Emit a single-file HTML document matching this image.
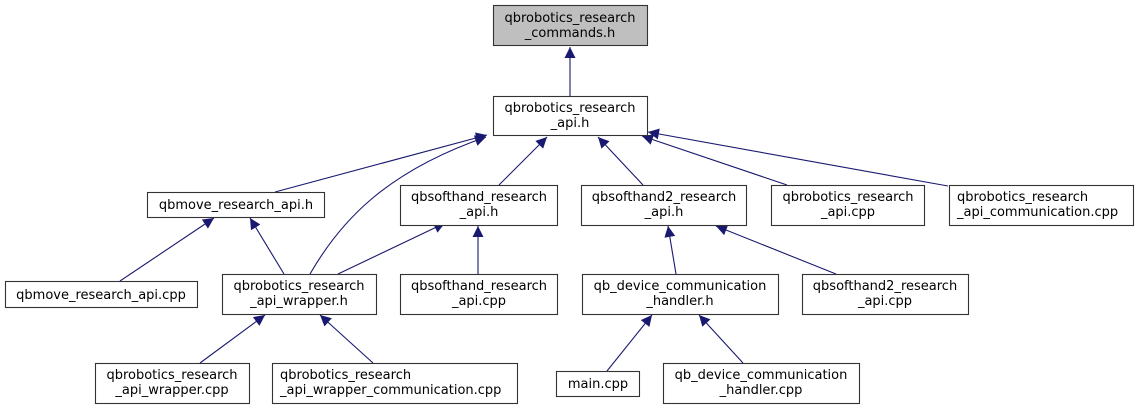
<!DOCTYPE html>
<html><head><meta charset="utf-8"><style>html,body{margin:0;padding:0;background:#fff}svg{display:block}</style></head>
<body>
<svg width="1139" height="409" viewBox="0 0 1139 409" xmlns="http://www.w3.org/2000/svg" font-family="'DejaVu Sans','Liberation Sans',sans-serif" font-size="13">
<defs>
<marker id="a" viewBox="0 0 10 10" refX="10" refY="5" markerWidth="11" markerHeight="11" markerUnits="userSpaceOnUse" orient="auto">
<path d="M0,0 L10,5 L0,10 z" fill="#191970"/>
</marker>
</defs>
<g stroke="#191970" stroke-width="1.1" fill="none" marker-end="url(#a)">
<line x1="570" y1="96" x2="570" y2="47"/>
<line x1="275" y1="192" x2="487" y2="135"/>
<path d="M310,274 C340,222 385,172 486,137"/>
<line x1="499" y1="185" x2="547" y2="137"/>
<line x1="643" y1="185" x2="598" y2="137"/>
<line x1="787" y1="185" x2="642" y2="136"/>
<line x1="948" y1="186" x2="648" y2="132"/>
<line x1="120" y1="281" x2="214" y2="218"/>
<line x1="284" y1="274" x2="250" y2="218"/>
<line x1="338" y1="274" x2="445" y2="223"/>
<line x1="478" y1="274" x2="478" y2="226"/>
<line x1="676" y1="274" x2="668" y2="226"/>
<line x1="836" y1="274" x2="716" y2="226"/>
<line x1="200" y1="363" x2="265" y2="315"/>
<line x1="373" y1="363" x2="320" y2="315"/>
<line x1="607" y1="371" x2="652" y2="315"/>
<line x1="743" y1="363" x2="699" y2="315"/>
</g>
<g stroke="#333" stroke-width="1.1" fill="#fff">
<rect x="493.5" y="5.5" width="154" height="40" fill="#bfbfbf"/>
<rect x="493.5" y="96.5" width="154" height="39"/>
<rect x="147.5" y="192.5" width="177" height="25"/>
<rect x="400.5" y="185.5" width="157" height="40"/>
<rect x="581.5" y="185.5" width="165" height="40"/>
<rect x="771.5" y="185.5" width="153" height="40"/>
<rect x="949.5" y="185.5" width="184" height="40"/>
<rect x="5.5" y="281.5" width="192" height="26"/>
<rect x="222.5" y="274.5" width="154" height="40"/>
<rect x="400.5" y="274.5" width="157" height="40"/>
<rect x="582.5" y="274.5" width="196" height="40"/>
<rect x="802.5" y="274.5" width="166" height="40"/>
<rect x="95.5" y="363.5" width="154" height="40"/>
<rect x="272.5" y="363.5" width="245" height="40"/>
<rect x="556.5" y="371.5" width="83" height="25"/>
<rect x="663.5" y="363.5" width="196" height="40"/>
</g>
<g fill="#000" text-anchor="middle">
<text x="570" y="22">qbrobotics_research</text><text x="570" y="37">_commands.h</text>
<text x="570" y="112">qbrobotics_research</text><text x="570" y="127">_api.h</text>
<text x="236" y="209">qbmove_research_api.h</text>
<text x="479" y="201">qbsofthand_research</text><text x="479" y="216">_api.h</text>
<text x="664" y="201">qbsofthand2_research</text><text x="664" y="216">_api.h</text>
<text x="848" y="201">qbrobotics_research</text><text x="848" y="216">_api.cpp</text>
<text x="1041" y="201" text-anchor="start" x-dummy="">&#8203;</text>
<text x="957" y="201" text-anchor="start">qbrobotics_research</text><text x="957" y="216" text-anchor="start">_api_communication.cpp</text>
<text x="101" y="299">qbmove_research_api.cpp</text>
<text x="299" y="290">qbrobotics_research</text><text x="299" y="305">_api_wrapper.h</text>
<text x="479" y="290">qbsofthand_research</text><text x="479" y="305">_api.cpp</text>
<text x="680" y="290">qb_device_communication</text><text x="680" y="305">_handler.h</text>
<text x="885" y="290">qbsofthand2_research</text><text x="885" y="305">_api.cpp</text>
<text x="172" y="379">qbrobotics_research</text><text x="172" y="394">_api_wrapper.cpp</text>
<text x="280" y="379" text-anchor="start">qbrobotics_research</text><text x="280" y="394" text-anchor="start">_api_wrapper_communication.cpp</text>
<text x="598" y="388">main.cpp</text>
<text x="761" y="379">qb_device_communication</text><text x="761" y="394">_handler.cpp</text>
</g>
</svg>
</body></html>
